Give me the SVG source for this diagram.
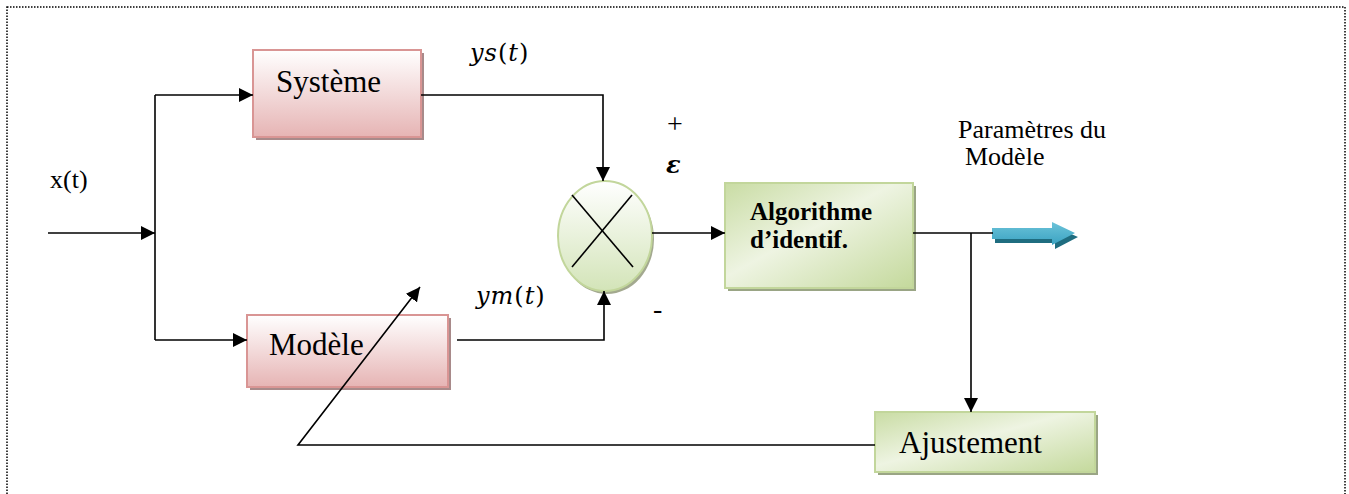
<svg xmlns="http://www.w3.org/2000/svg" width="1349" height="494" viewBox="0 0 1349 494">
<defs>
<linearGradient id="pink" x1="0" y1="0" x2="0" y2="1">
<stop offset="0" stop-color="#ffffff"/><stop offset="0.4" stop-color="#f5e1e1"/><stop offset="1" stop-color="#e6b4b4"/>
</linearGradient>
<linearGradient id="green" x1="0" y1="0" x2="1" y2="1">
<stop offset="0" stop-color="#c9dca4"/><stop offset="0.45" stop-color="#eef4e2"/><stop offset="1" stop-color="#c4d99c"/>
</linearGradient>
<linearGradient id="gcirc" x1="0" y1="0" x2="0" y2="1">
<stop offset="0" stop-color="#ffffff"/><stop offset="1" stop-color="#d3e4b8"/>
</linearGradient>
<linearGradient id="blue" x1="0" y1="0" x2="0" y2="1">
<stop offset="0" stop-color="#6cc3d9"/><stop offset="1" stop-color="#3aa3c2"/>
</linearGradient>
<marker id="ah" viewBox="0 0 10 10" refX="10" refY="5" markerWidth="14" markerHeight="14" markerUnits="userSpaceOnUse" orient="auto">
<path d="M0,0 L10,5 L0,10 z" fill="#000"/>
</marker>
<style>
.ln{stroke:#000;stroke-width:1.6;fill:none}
.pbox{fill:url(#pink);stroke:#d99594;stroke-width:2}
.gbox{fill:url(#green);stroke:#c2d69b;stroke-width:2}
.sh1{fill:#a88a8a}
.sh2{fill:#9aa585}
.tr{font-family:"Liberation Serif",serif;fill:#000}
.mi{font-family:"DejaVu Serif","Liberation Serif",serif;fill:#000}
.it{font-style:italic}
</style>
</defs>
<rect x="7" y="7" width="1338" height="500" fill="none" stroke="#000" stroke-width="1.5" stroke-dasharray="1.5 1.5"/>

<g id="systeme">
<rect x="256" y="53" width="168" height="87" class="sh1"/>
<rect x="253" y="50" width="168" height="87" class="pbox"/>
<text x="276" y="92" font-size="31" class="tr">Système</text>
</g>
<g id="modele">
<rect x="250" y="318" width="201" height="72" class="sh1"/>
<rect x="247" y="315" width="201" height="72" class="pbox"/>
<text x="269" y="355" font-size="31" class="tr">Modèle</text>
</g>
<g id="comparateur">
<ellipse cx="607" cy="239" rx="47" ry="55" fill="#a3a98f"/>
<ellipse cx="605" cy="236" rx="47" ry="55" fill="url(#gcirc)" stroke="#c2d69b" stroke-width="2"/>
<line x1="572" y1="195" x2="633" y2="267" class="ln"/>
<line x1="632" y1="195" x2="572" y2="267" class="ln"/>
</g>
<g id="algorithme">
<rect x="728" y="186" width="188" height="105" class="sh2"/>
<rect x="725" y="183" width="188" height="105" class="gbox"/>
<text x="750" y="220" font-size="25" font-weight="bold" class="tr">Algorithme</text>
<text x="750" y="248" font-size="25" font-weight="bold" class="tr">d’identif.</text>
</g>
<g id="ajustement">
<rect x="878" y="415" width="220" height="60" class="sh2"/>
<rect x="875" y="412" width="220" height="60" class="gbox"/>
<text x="899" y="453" font-size="31" class="tr">Ajustement</text>
</g>
<g id="sortie">
<polygon points="995,232 1055,232 1055,227 1078,237 1055,249 1055,243 995,243" fill="#1f6d80"/>
<polygon points="992,228 1052,228 1052,222 1075,233 1052,245 1052,239 992,239" fill="url(#blue)"/>
</g>

<g id="connecteurs">
<line x1="48" y1="233" x2="155" y2="233" class="ln" marker-end="url(#ah)"/>
<polyline points="155,95 155,340" class="ln"/>
<line x1="155" y1="95" x2="253" y2="95" class="ln" marker-end="url(#ah)"/>
<line x1="155" y1="340" x2="247" y2="340" class="ln" marker-end="url(#ah)"/>
<polyline points="421,95 603,95 603,181" class="ln" marker-end="url(#ah)"/>
<polyline points="457,340 604,340 604,291" class="ln" marker-end="url(#ah)"/>
<line x1="652" y1="233" x2="725" y2="233" class="ln" marker-end="url(#ah)"/>
<line x1="913" y1="233" x2="993" y2="233" class="ln"/>
<line x1="971" y1="233" x2="971" y2="412" class="ln" marker-end="url(#ah)"/>
<polyline points="875,445 298,445 420,287" class="ln" marker-end="url(#ah)"/>
</g>

<g id="labels">
<text x="50" y="188" font-size="26" class="tr">x(t)</text>
<text x="470" y="61" font-size="24" letter-spacing="1" class="mi"><tspan class="it">ys</tspan>(<tspan class="it">t</tspan>)</text>
<text x="476" y="304" font-size="24" letter-spacing="1" class="mi"><tspan class="it">ym</tspan>(<tspan class="it">t</tspan>)</text>
<text x="667" y="133" font-size="28" class="tr">+</text>
<text x="666" y="173" font-size="24" font-weight="bold" class="mi it">ε</text>
<text x="653" y="318" font-size="28" class="tr">-</text>
<text x="958" y="138" font-size="26" class="tr">Paramètres du</text>
<text x="965" y="165" font-size="26" class="tr">Modèle</text>
</g>
</svg>
